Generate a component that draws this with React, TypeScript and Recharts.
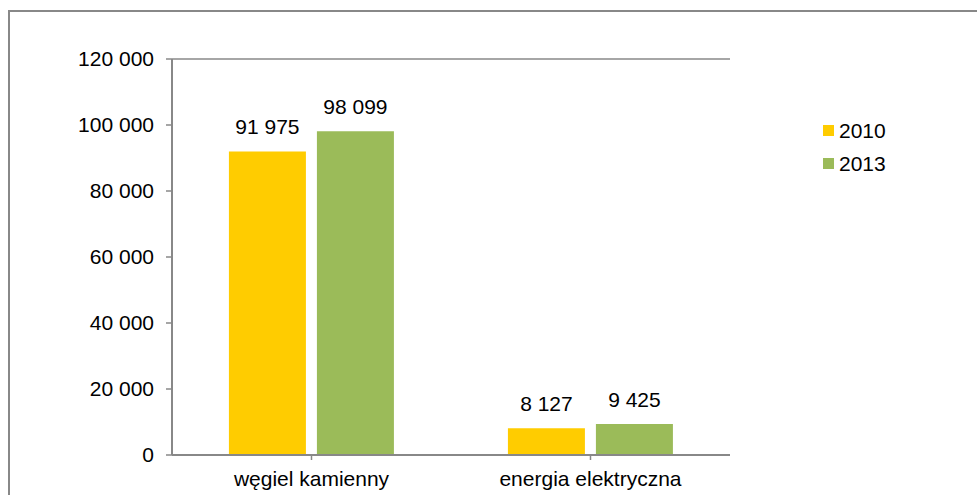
import React from "react";
import {
  BarChart,
  Bar,
  XAxis,
  YAxis,
  CartesianGrid,
  LabelList,
} from "recharts";

const categories = ["węgiel kamienny", "energia elektryczna"];
const values2010 = [91975, 8127];
const values2013 = [98099, 9425];
const yTicks = [0, 20000, 40000, 60000, 80000, 100000, 120000];
const seriesNames = ["2010", "2013"];

const COLOR_2010 = "#FFCC00";
const COLOR_2013 = "#9BBB59";
const LINE = "#888888";
const FONT = "'Liberation Sans', Arial, sans-serif";

const data = categories.map((name, i) => ({
  name,
  y2010: values2010[i],
  y2013: values2013[i],
}));

const fmt = (v: number) =>
  String(v).replace(/\B(?=(\d{3})+(?!\d))/g, " ");

// legend sits to the right of the plot, outside the chart's layout
const LegendBox = () => (
  <div
    style={{
      position: "absolute",
      left: 823,
      top: 114,
      fontFamily: FONT,
      fontSize: 21,
      color: "#000",
    }}
  >
    {seriesNames.map((s, i) => (
      <div
        key={s}
        style={{ display: "flex", alignItems: "center", height: 33 }}
      >
        <span
          style={{
            display: "inline-block",
            width: 11,
            height: 11,
            background: i === 0 ? COLOR_2010 : COLOR_2013,
            marginRight: 5,
          }}
        />
        <span>{s}</span>
      </div>
    ))}
  </div>
);

export default function App() {
  return (
    <div
      style={{
        position: "absolute",
        left: 0,
        top: 0,
        width: 977,
        height: 495,
        background: "#fff",
        overflow: "hidden",
      }}
    >
      <div
        style={{
          position: "absolute",
          left: 8,
          top: 10,
          width: 1000,
          height: 520,
          border: `2px solid ${LINE}`,
          boxSizing: "border-box",
        }}
      />
      <BarChart
        width={977}
        height={495}
        data={data}
        margin={{ top: 59, right: 247, bottom: 0, left: 0 }}
        barCategoryGap="20.4%"
        barGap={11}
        style={{ position: "absolute", left: 0, top: 0 }}
      >
        <CartesianGrid
          vertical={false}
          stroke={LINE}
          strokeWidth={1.5}
          fill="none"
        />
        <XAxis
          dataKey="name"
          height={40}
          tickSize={5}
          tickMargin={11}
          axisLine={{ stroke: LINE, strokeWidth: 2 }}
          tickLine={{ stroke: LINE, strokeWidth: 1.5 }}
          tick={{ fill: "#000", fontSize: 21, fontFamily: FONT }}
          interval={0}
        />
        <YAxis
          yAxisId="left"
          width={172}
          domain={[0, 120000]}
          ticks={yTicks}
          tickFormatter={fmt}
          tickSize={6}
          tickMargin={12}
          axisLine={{ stroke: LINE, strokeWidth: 2 }}
          tickLine={{ stroke: LINE, strokeWidth: 1.5 }}
          tick={{ fill: "#000", fontSize: 21, fontFamily: FONT }}
        />
        <YAxis
          yAxisId="right"
          orientation="right"
          width={0}
          domain={[0, 120000]}
          tick={false}
          tickLine={false}
          axisLine={{ stroke: LINE, strokeWidth: 2 }}
        />
        <Bar
          yAxisId="left"
          dataKey="y2010"
          name={seriesNames[0]}
          fill={COLOR_2010}
          isAnimationActive={false}
        >
          <LabelList
            dataKey="y2010"
            position="top"
            offset={17}
            formatter={(v: any) => fmt(Number(v))}
            style={{ fill: "#000", fontSize: 21, fontFamily: FONT }}
          />
        </Bar>
        <Bar
          yAxisId="left"
          dataKey="y2013"
          name={seriesNames[1]}
          fill={COLOR_2013}
          isAnimationActive={false}
        >
          <LabelList
            dataKey="y2013"
            position="top"
            offset={17}
            formatter={(v: any) => fmt(Number(v))}
            style={{ fill: "#000", fontSize: 21, fontFamily: FONT }}
          />
        </Bar>
      </BarChart>
      <LegendBox />
    </div>
  );
}
